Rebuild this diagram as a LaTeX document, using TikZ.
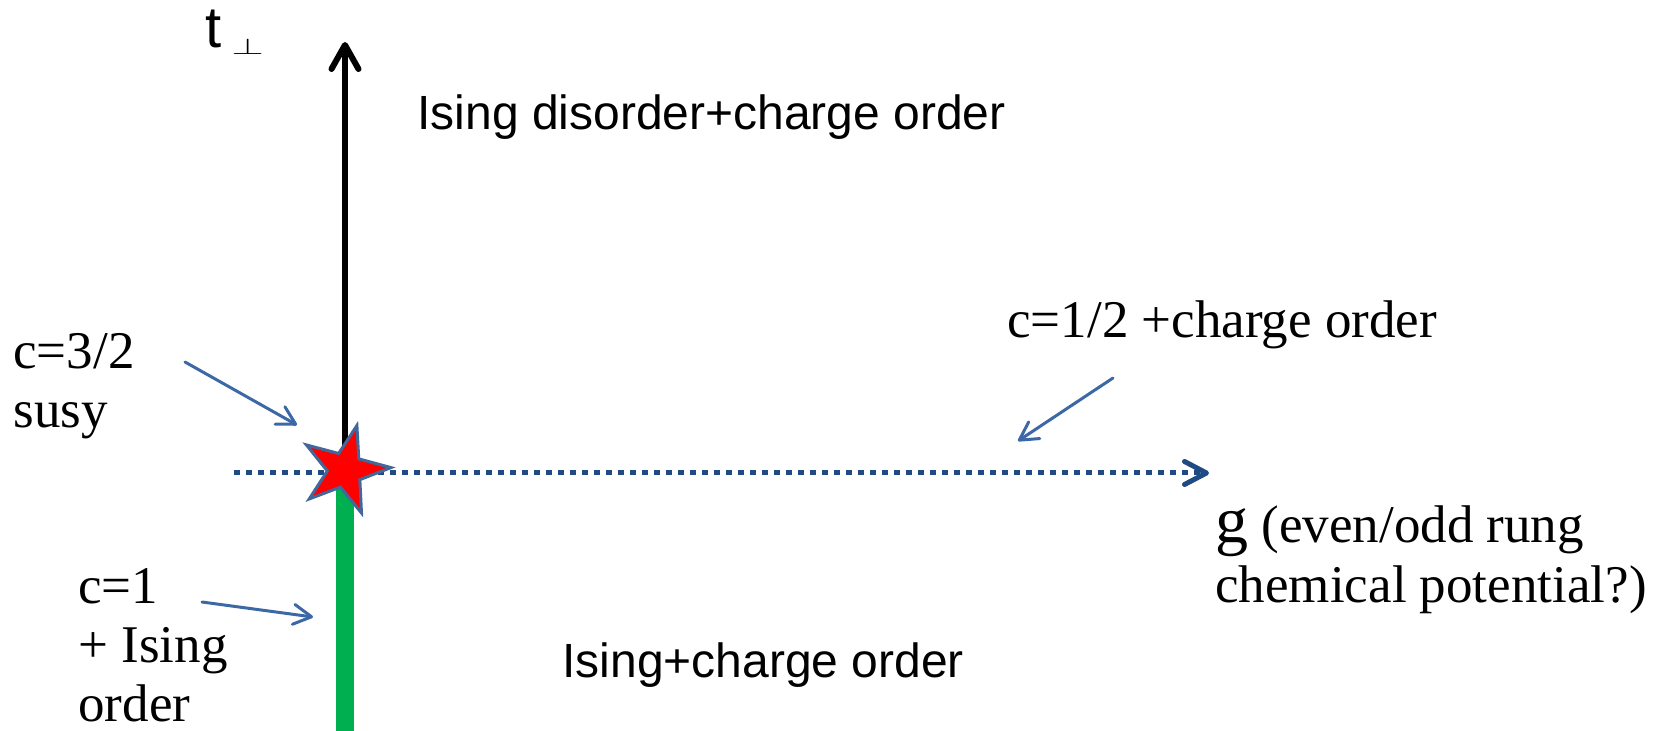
\documentclass[tikz,border=0pt]{standalone}
\usepackage{fontspec}
\setmainfont{Liberation Serif}
\newfontfamily\labelsans{Liberation Sans}
\usetikzlibrary{arrows.meta,positioning,shapes.geometric}
\definecolor{gaxisblue}{HTML}{1F4A84}
\definecolor{noteblue}{HTML}{3C68A6}
\definecolor{starred}{HTML}{FF0000}
\definecolor{staredge}{HTML}{44679B}
\definecolor{isinggreen}{HTML}{00B050}
\tikzset{
  phaselabel/.style={inner sep=0pt, anchor=base west,
    font=\labelsans\fontsize{24}{29}\selectfont},
  critlabel/.style={inner sep=0pt, anchor=base west, align=left,
    font=\fontsize{26.5}{29.5}\selectfont},
  notearrow/.style={-{Straight Barb[round,length=9pt,width=10pt]},
    line width=1.5pt, draw=noteblue, line cap=round},
  taxis/.style={-{Straight Barb[round,length=12pt,width=13.5pt]}, line width=3pt},
  gaxis/.style={-{Straight Barb[round,length=11pt,width=11.5pt]}, line width=2.5pt,
    draw=gaxisblue, dash pattern=on 2.75pt off 3.25pt},
  isingline/.style={draw=isinggreen, line width=9pt},
  susystar/.style={star, star points=5, star point ratio=2.6, minimum size=46pt,
    inner sep=0pt, rotate=-15, fill=starred, draw=staredge, line width=1.5pt}
}

\begin{document}
\begin{tikzpicture}[x=0.5pt, y=-0.5pt]
\useasboundingbox (0,0) rectangle (1664,731);

\coordinate (crit) at (345,470);
\coordinate (ttop) at (345,42);
\coordinate (gbot) at (345,735);
\coordinate (gstart) at (234,473);
\coordinate (gend) at (1209,473);

\draw[isingline] (crit) -- (gbot);
\draw[taxis] (crit) -- (ttop);
\draw[gaxis] (gstart) -- (gend);
\node[susystar] (star) at (crit) {};

\node[inner sep=0pt, anchor=base west, font=\labelsans\fontsize{29}{32}\selectfont] (tperp) at (205,48)
  {t\hspace{5pt}\raisebox{-3.5pt}{\scalebox{1}[0.55]{\fontsize{21}{21}\selectfont$\perp$}}};
\node[phaselabel] (upper) at (417,130) {Ising disorder+charge order};
\node[phaselabel] (lower) at (562,677) {Ising+charge order};

\node[critlabel] (susy) at (13,428) {c=3/2\\susy};
\node[critlabel] (cone) at (78,721) {c=1\\+ Ising\\order};
\node[critlabel] (chalf) at (1007,338) {c=1/2 +charge order};
\node[critlabel] (glabel) at (1215,602) {{\fontsize{33}{29}\selectfont g} (even/odd rung\\chemical potential?)};

\coordinate (susytail) at (185,362);
\coordinate (susyhead) at (297,425);
\coordinate (conetail) at (202,602);
\coordinate (conehead) at (313,617);
\coordinate (chalftail) at (1113,378);
\coordinate (chalfhead) at (1018,441);

\draw[notearrow] (susytail) -- (susyhead);
\draw[notearrow] (conetail) -- (conehead);
\draw[notearrow] (chalftail) -- (chalfhead);
\end{tikzpicture}
\end{document}
